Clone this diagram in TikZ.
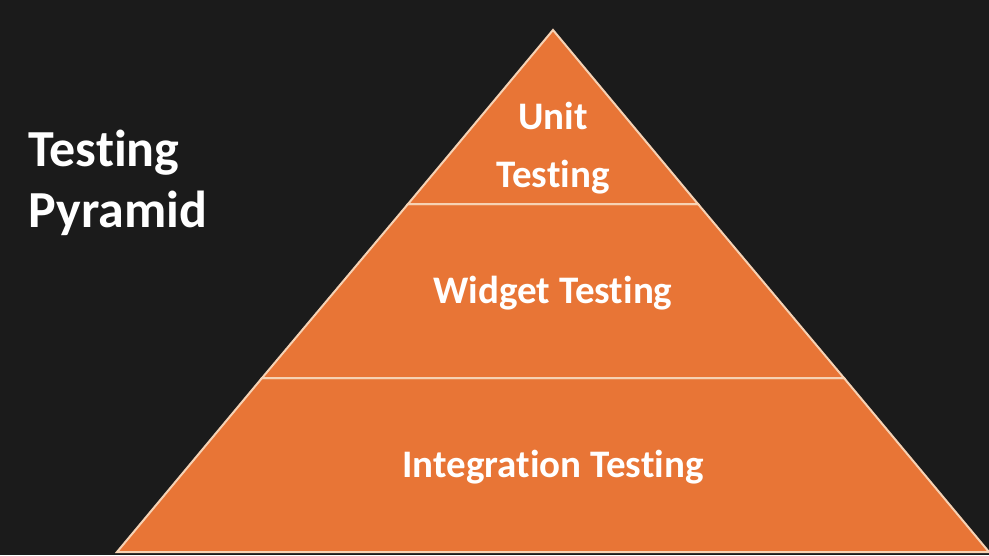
\documentclass[tikz,border=0pt]{standalone}
\usepackage{fontspec}
\setmainfont{Carlito}[Ligatures=NoCommon]
\definecolor{bgdark}{HTML}{1B1B1B}
\definecolor{tierfill}{HTML}{E87536}
\definecolor{tierline}{HTML}{F6D2B4}
\begin{document}
\begin{tikzpicture}[x=1pt,y=-1pt,
  tier/.style={fill=tierfill,draw=tierline,line width=2pt,line join=miter},
  tierlabel/.style={text=white,font=\bfseries\fontsize{39}{58}\selectfont,align=center},
  heading/.style={text=white,font=\bfseries\fontsize{52}{61}\selectfont,align=left,anchor=north west}]
  % page background
  \fill[bgdark] (0,0) rectangle (989,555);
  \useasboundingbox (0,0) rectangle (989,555);
  % pyramid corners and tier boundaries
  \coordinate (apex) at (553,30);
  \coordinate (bl) at (117,552);
  \coordinate (br) at (989,552);
  \coordinate (l1) at (408,204);
  \coordinate (r1) at (698,204);
  \coordinate (l2) at (262,378);
  \coordinate (r2) at (844,378);
  % tiers
  \draw[tier] (l2) -- (r2) -- (br) -- (bl) -- cycle;
  \draw[tier] (l1) -- (r1) -- (r2) -- (l2) -- cycle;
  \draw[tier] (apex) -- (r1) -- (l1) -- cycle;
  % labels
  \node[tierlabel] (unit) at (553,148) {Unit\\Testing};
  \node[tierlabel] (widget) at (553,293) {Widget Testing};
  \node[tierlabel] (integ) at (553,467) {Integration Testing};
  \node[heading] (title) at (25,126) {Testing\\Pyramid};
\end{tikzpicture}
\end{document}
